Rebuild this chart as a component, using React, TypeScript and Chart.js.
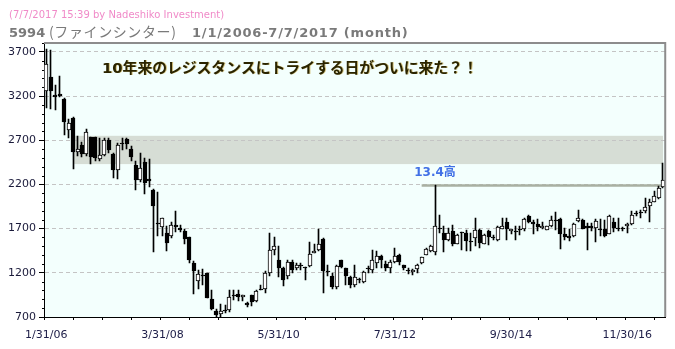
import { useEffect, useRef } from "react";
import { Chart, registerables } from "chart.js";

Chart.register(...registerables);

// Monthly OHLC, Jan 2006 .. Jul 2017
const OPEN = [
  3260, 3420, 3210, 3205, 3170, 2815, 2950, 2570, 2650, 2548, 2732, 2735, 2492, 2535, 2698, 2540, 2368, 2658, 2710, 2605,
  2425, 2248, 2458, 2258, 2135, 1766, 1715, 1655, 1620, 1740, 1712, 1675, 1600, 1315, 1103, 1168, 1195, 905, 770, 730,
  780, 775, 950, 960, 925, 855, 945, 885, 1018, 1015, 1195, 1460, 1348, 1255, 1160, 1325, 1255, 1290, 1265, 1272,
  1425, 1455, 1583, 1225, 1165, 1045, 1348, 1253, 1150, 1060, 1133, 1100, 1255, 1235, 1310, 1393, 1302, 1260, 1322, 1405,
  1283, 1232, 1204, 1245, 1310, 1405, 1442, 1431, 1705, 1651, 1567, 1670, 1530, 1662, 1651, 1555, 1594, 1689, 1530, 1677,
  1600, 1567, 1696, 1776, 1670, 1677, 1700, 1696, 1840, 1772, 1757, 1703, 1689, 1726, 1803, 1814, 1643, 1613, 1613, 1783,
  1803, 1726, 1726, 1708, 1700, 1696, 1643, 1772, 1708, 1702, 1726, 1757, 1872, 1880, 1897, 1953, 2004, 2049, 2174,
];
const HIGH = [
  3730, 3720, 3320, 3430, 3175, 2945, 2960, 2750, 2680, 2830, 2740, 2740, 2720, 2730, 2720, 2560, 2670, 2720, 2720, 2640,
  2460, 2550, 2500, 2490, 2150, 2110, 1825, 1730, 1770, 1900, 1740, 1700, 1610, 1335, 1235, 1242, 1200, 1005, 790, 843,
  840, 1005, 1005, 1000, 950, 870, 950, 1000, 1060, 1215, 1645, 1605, 1500, 1265, 1350, 1340, 1310, 1310, 1270, 1545,
  1525, 1700, 1590, 1290, 1200, 1290, 1350, 1260, 1160, 1290, 1140, 1215, 1280, 1460, 1450, 1400, 1330, 1345, 1480, 1415,
  1291, 1255, 1240, 1300, 1380, 1480, 1518, 2190, 1850, 1726, 1708, 1745, 1640, 1665, 1689, 1651, 1822, 1700, 1640, 1680,
  1630, 1725, 1822, 1822, 1700, 1726, 1726, 1822, 1850, 1803, 1810, 1780, 1730, 1840, 1885, 1820, 1708, 1700, 1760, 1916,
  1805, 1760, 1760, 1810, 1810, 1800, 1850, 1820, 1820, 1720, 1765, 1897, 1900, 1910, 2049, 2030, 2120, 2180, 2446,
];
const LOW = [
  3070, 3050, 3040, 3190, 2760, 2720, 2370, 2525, 2510, 2522, 2432, 2465, 2470, 2520, 2560, 2270, 2265, 2590, 2600, 2470,
  2140, 2225, 2090, 2170, 1430, 1620, 1615, 1450, 1590, 1660, 1660, 1530, 1310, 955, 1017, 1064, 915, 780, 705, 705,
  740, 755, 890, 885, 885, 810, 830, 870, 1000, 975, 1165, 1405, 1150, 1050, 1125, 1200, 1230, 1230, 1120, 1265,
  1420, 1450, 970, 1165, 1020, 1020, 1260, 1065, 1030, 1045, 1090, 1080, 1200, 1200, 1260, 1250, 1220, 1200, 1310, 1290,
  1234, 1190, 1170, 1196, 1300, 1400, 1440, 1405, 1650, 1431, 1556, 1499, 1525, 1461, 1442, 1442, 1499, 1480, 1525, 1518,
  1567, 1560, 1690, 1567, 1640, 1575, 1632, 1670, 1765, 1643, 1670, 1690, 1680, 1715, 1689, 1473, 1575, 1560, 1605, 1775,
  1690, 1453, 1670, 1545, 1620, 1610, 1635, 1660, 1670, 1670, 1655, 1745, 1840, 1820, 1880, 1772, 2000, 2040, 2163,
];
const CLOSE = [
  3560, 3260, 3185, 3218, 2910, 2900, 2570, 2603, 2545, 2790, 2510, 2495, 2528, 2700, 2585, 2365, 2650, 2666, 2660, 2515,
  2252, 2388, 2215, 2240, 1960, 1750, 1822, 1540, 1740, 1720, 1686, 1580, 1350, 1225, 1188, 1176, 920, 790, 725, 770,
  763, 925, 932, 925, 948, 840, 875, 995, 1007, 1195, 1460, 1507, 1260, 1113, 1320, 1235, 1290, 1272, 1250, 1415,
  1450, 1530, 1215, 1208, 1045, 1280, 1265, 1166, 1065, 1150, 1122, 1208, 1240, 1348, 1392, 1348, 1253, 1317, 1393, 1317,
  1250, 1236, 1234, 1291, 1374, 1469, 1507, 1726, 1710, 1567, 1651, 1530, 1632, 1651, 1556, 1560, 1689, 1537, 1632, 1605,
  1605, 1719, 1734, 1696, 1695, 1658, 1681, 1810, 1772, 1757, 1719, 1734, 1726, 1803, 1783, 1643, 1605, 1594, 1757, 1822,
  1696, 1708, 1705, 1783, 1690, 1620, 1840, 1708, 1696, 1696, 1753, 1859, 1880, 1888, 1946, 2004, 2067, 2163, 2249,
];

const START_YEAR = 2006;
const LABEL_EVERY = 26; // months between date labels
const MINOR_EVERY = 6.5; // months between x tick marks
const Y_MIN = 700;
const Y_MAX = 3800;
const Y_TICKS = [700, 1200, 1700, 2200, 2700, 3200, 3700];
const Y_MINOR_STEP = 100;

// resistance zone and the April 2013 high
const RESIST_LOW = 2430;
const RESIST_HIGH = 2750;
const RESIST_FROM = 6;
const PEAK_INDEX = 87;
const PEAK_LINE_FROM = 84;
const PEAK_LABEL = "13.4高";
const NOTE = "10年来のレジスタンスにトライする日がついに来た？！";
const STAMP = "(7/7/2017 15:39 by Nadeshiko Investment)";
const CODE = "5994";
const NAME = "(ファインシンター)";
const RANGE = "1/1/2006-7/7/2017 (month)";

// month-end date labels, e.g. 1/31/06
const CATEGORIES = OPEN.map((_, i) => {
  const d = new Date(Date.UTC(START_YEAR, i + 1, 0));
  return `${d.getUTCMonth() + 1}/${d.getUTCDate()}/${String(d.getUTCFullYear()).slice(2)}`;
});

const LATIN = '"DejaVu Sans", Verdana, "Noto Sans CJK JP", sans-serif';
const CJK = '"Noto Sans CJK JP", "DejaVu Sans", sans-serif';
const PLOT_BG = "#f3fffd";

// snap candle bodies and wicks onto whole pixels so they stay crisp
const crisp = {
  id: "crisp",
  afterDatasetsUpdate(chart: any) {
    chart.data.datasets.forEach((ds: any, di: number) => {
      const meta = chart.getDatasetMeta(di);
      const thin = ds.barThickness % 2 === 1;
      meta.data.forEach((el: any) => {
        el.x = thin ? Math.floor(el.x) + 0.5 : Math.round(el.x);
        const top = Math.round(Math.min(el.y, el.base));
        let bot = Math.round(Math.max(el.y, el.base));
        if (bot - top < 1) bot = top + 1;
        el.y = top;
        el.base = bot;
        el.height = bot - top;
      });
    });
  },
};

const decor = {
  id: "decor",
  beforeDraw(chart: any) {
    const { ctx, chartArea: a, scales } = chart;
    const x = scales.x;
    const y = scales.y;
    ctx.save();
    ctx.fillStyle = PLOT_BG;
    ctx.fillRect(a.left, a.top, a.width, a.height);
    // resistance zone
    const x0 = x.getPixelForValue(RESIST_FROM);
    const x1 = x.getPixelForValue(OPEN.length - 1);
    const yTop = y.getPixelForValue(RESIST_HIGH);
    const yBot = y.getPixelForValue(RESIST_LOW);
    ctx.fillStyle = "#d6ddd5";
    ctx.fillRect(x0, yTop, x1 - x0, yBot - yTop);
    ctx.restore();
  },
  beforeDatasetsDraw(chart: any) {
    const { ctx, scales } = chart;
    const x = scales.x;
    const y = scales.y;
    const py = Math.round(y.getPixelForValue(HIGH[PEAK_INDEX])) + 0.5;
    ctx.save();
    ctx.strokeStyle = "#a9b0a2";
    ctx.lineWidth = 2.5;
    ctx.beginPath();
    ctx.moveTo(x.getPixelForValue(PEAK_LINE_FROM), py);
    ctx.lineTo(x.getPixelForValue(OPEN.length - 1), py);
    ctx.stroke();
    ctx.restore();
  },
  afterDraw(chart: any) {
    const { ctx, chartArea: a, scales } = chart;
    const x = scales.x;
    const y = scales.y;
    ctx.save();
    // top and right frame
    ctx.strokeStyle = "#8c8c8c";
    ctx.lineWidth = 2;
    ctx.beginPath();
    ctx.moveTo(a.left, a.top);
    ctx.lineTo(a.right, a.top);
    ctx.lineTo(a.right, a.bottom);
    ctx.stroke();
    // minor y ticks
    ctx.strokeStyle = "#000";
    ctx.lineWidth = 1;
    ctx.beginPath();
    for (let v = Y_MIN + Y_MINOR_STEP; v <= Y_MAX; v += Y_MINOR_STEP) {
      if (Y_TICKS.includes(v)) continue;
      const py = Math.round(y.getPixelForValue(v)) + 0.5;
      ctx.moveTo(a.left - 2, py);
      ctx.lineTo(a.left, py);
    }
    // x tick marks
    const per = a.width / OPEN.length;
    for (let k = 0; k * MINOR_EVERY <= OPEN.length; k++) {
      const px = Math.round(a.left + k * MINOR_EVERY * per) + 0.5;
      ctx.moveTo(px, a.bottom);
      ctx.lineTo(px, a.bottom + 3);
    }
    ctx.stroke();

    // comment text
    ctx.font = `bold 14.8px ${LATIN}`;
    ctx.textAlign = "left";
    ctx.textBaseline = "middle";
    ctx.shadowColor = "rgba(190,150,30,0.55)";
    ctx.shadowOffsetX = 1;
    ctx.shadowOffsetY = 0;
    ctx.fillStyle = "#2a2400";
    ctx.fillText(NOTE, a.left + 58, a.top + 26);
    ctx.shadowColor = "transparent";

    // peak label
    ctx.font = `bold 12px ${LATIN}`;
    ctx.textAlign = "center";
    ctx.textBaseline = "bottom";
    ctx.fillStyle = "#4170e6";
    ctx.fillText(PEAK_LABEL, x.getPixelForValue(PEAK_INDEX), y.getPixelForValue(HIGH[PEAK_INDEX]) - 6);
    ctx.restore();
  },
};

export default function App() {
  const ref = useRef<HTMLCanvasElement | null>(null);

  useEffect(() => {
    if (!ref.current) return;
    const bodies = OPEN.map((o, i) => [Math.min(o, CLOSE[i]), Math.max(o, CLOSE[i])]);
    const wicks = LOW.map((l, i) => [l, HIGH[i]]);
    const bodyFill = OPEN.map((o, i) => (CLOSE[i] > o && CLOSE[i] - o > 20 ? "#ffffff" : "#000000"));

    const chart = new Chart(ref.current, {
      type: "bar",
      data: {
        labels: CATEGORIES,
        datasets: [
          {
            data: bodies as any,
            backgroundColor: bodyFill,
            borderColor: "#000",
            borderWidth: 1,
            borderSkipped: false,
            barThickness: 4,
            grouped: false,
            order: 0,
          },
          {
            data: wicks as any,
            backgroundColor: "#000",
            borderWidth: 0,
            barThickness: 1,
            grouped: false,
            order: 1,
          },
        ],
      },
      options: {
        responsive: false,
        animation: false,
        devicePixelRatio: 1,
        events: [],
        layout: { padding: { left: 0, top: 43, right: 3, bottom: 0 } },
        plugins: { legend: { display: false }, tooltip: { enabled: false } },
        scales: {
          x: {
            grid: { display: false, drawTicks: false },
            border: { color: "#000", width: 1 },
            ticks: {
              autoSkip: false,
              maxRotation: 0,
              minRotation: 0,
              padding: 12,
              color: "#20204a",
              font: { family: LATIN, size: 11 },
              callback: (_v: any, i: number) => (i % LABEL_EVERY === 0 ? CATEGORIES[i] : ""),
            },
            afterFit: (s: any) => {
              s.height = 32;
            },
          },
          y: {
            min: Y_MIN,
            max: Y_MAX,
            afterBuildTicks: (s: any) => {
              s.ticks = Y_TICKS.map((v) => ({ value: v }));
            },
            grid: {
              color: (c: any) => (c.tick && c.tick.value === Y_MIN ? "rgba(0,0,0,0)" : "#c4c4c4"),
              tickColor: "#000",
              tickBorderDash: [],
              tickLength: 5,
              lineWidth: 1,
            },
            border: { color: "#000", width: 1, dash: [4, 3] },
            ticks: {
              padding: 3,
              color: "#1a1a3a",
              font: { family: LATIN, size: 11 },
              callback: (v: any) => String(v),
            },
            afterFit: (s: any) => {
              s.width = 44;
            },
          },
        },
      },
      plugins: [crisp, decor],
    });
    return () => chart.destroy();
  }, []);

  return (
    <div style={{ position: "fixed", left: 0, top: 0, width: 675, height: 349, background: "#fff", overflow: "hidden" }}>
      <canvas ref={ref} width={675} height={349} style={{ position: "absolute", left: 0, top: 0 }} />
      <div
        style={{
          position: "absolute",
          left: 9,
          top: 9,
          font: `10px ${LATIN}`,
          lineHeight: "12px",
          color: "#f08ac8",
          whiteSpace: "nowrap",
        }}
      >
        {STAMP}
      </div>
      <div
        style={{
          position: "absolute",
          left: 9,
          top: 23,
          height: 16,
          lineHeight: "16px",
          color: "#7a7a7a",
          whiteSpace: "nowrap",
          font: `bold 13px ${LATIN}`,
        }}
      >
        <span style={{ display: "inline-block", width: 40 }}>{CODE}</span>
        <span style={{ display: "inline-block", width: 143, font: `14px ${CJK}`, lineHeight: "16px", letterSpacing: "0.6px" }}>
          {NAME}
        </span>
        <span style={{ letterSpacing: "0.8px" }}>{RANGE}</span>
      </div>
    </div>
  );
}
